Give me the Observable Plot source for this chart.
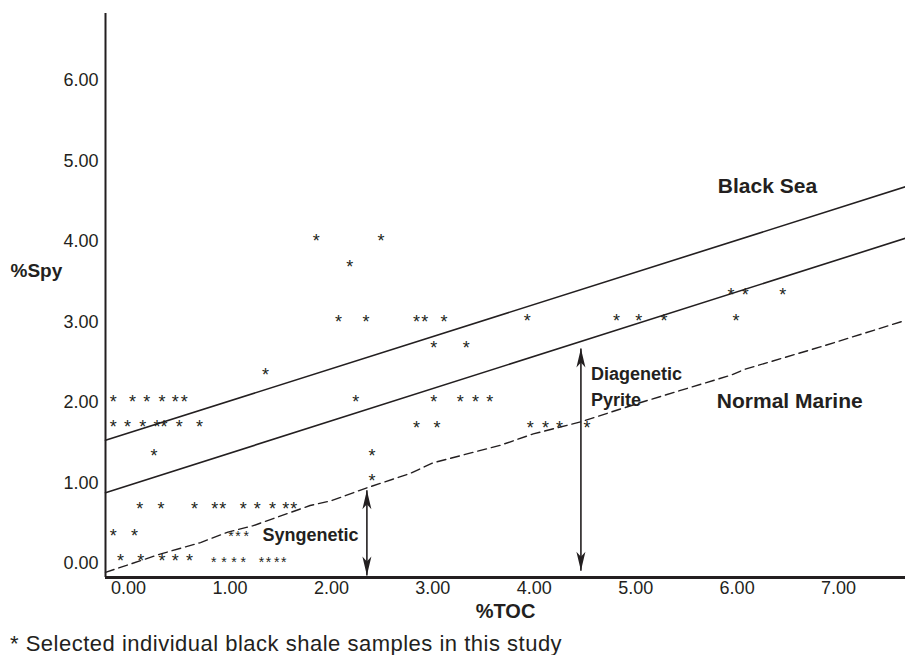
<!DOCTYPE html>
<html>
<head>
<meta charset="utf-8">
<script src="https://cdn.jsdelivr.net/npm/d3@7"></script>
<script src="https://cdn.jsdelivr.net/npm/@observablehq/plot@0.6"></script>
<style>
  html, body { margin: 0; padding: 0; background: #fff; }
  #caption { font-family: "Liberation Sans", Arial, sans-serif; font-size: 22px; letter-spacing: 0.5px; color: #231f20; padding: 5px 0 0 10px; line-height: 22px; white-space: nowrap; }
</style>
</head>
<body>
<div id="chart"></div>
<div id="caption">* Selected individual black shale samples in this study</div>
<script>
const tocTicks = [0, 1, 2, 3, 4, 5, 6, 7];
const spyTicks = [0, 1, 2, 3, 4, 5, 6];

// individual black shale samples [%TOC, %Spy]
const samples = [
  [-0.15, 2.06], [0.04, 2.06], [0.18, 2.06], [0.33, 2.06], [0.46, 2.06], [0.55, 2.06],
  [-0.15, 1.75], [-0.01, 1.75], [0.14, 1.75], [0.28, 1.75], [0.35, 1.75], [0.50, 1.75], [0.70, 1.75],
  [0.25, 1.40],
  [0.11, 0.73], [0.32, 0.73], [0.65, 0.73], [0.85, 0.73], [0.93, 0.73], [1.13, 0.73], [1.27, 0.73], [1.42, 0.73], [1.55, 0.73], [1.63, 0.73],
  [-0.15, 0.40], [0.06, 0.40],
  [-0.08, 0.09], [0.12, 0.09], [0.33, 0.09], [0.46, 0.09], [0.60, 0.09],
  [1.35, 2.40],
  [1.85, 4.06], [2.49, 4.06], [2.18, 3.74],
  [2.07, 3.06], [2.34, 3.06], [2.84, 3.06], [2.92, 3.06], [3.11, 3.06],
  [3.01, 2.73], [3.33, 2.73],
  [2.24, 2.06], [3.01, 2.06], [3.27, 2.06], [3.42, 2.06], [3.56, 2.06],
  [2.84, 1.74], [3.04, 1.74],
  [2.40, 1.39], [2.40, 1.08],
  [5.94, 3.40], [6.08, 3.40], [6.45, 3.40],
  [3.93, 3.07], [4.81, 3.07], [5.03, 3.07], [5.28, 3.07], [5.99, 3.07],
  [3.96, 1.74], [4.11, 1.74], [4.25, 1.74], [4.52, 1.74]
];
// tightly packed samples printed with a smaller glyph
const samplesSmall = [
  [1.01, 0.385], [1.08, 0.385], [1.16, 0.385],
  [0.84, 0.06], [0.94, 0.06], [1.04, 0.06], [1.13, 0.06], [1.31, 0.06], [1.38, 0.06], [1.46, 0.06], [1.53, 0.06]
];

const blackSeaLine = [[-0.227, 1.53], [7.66, 4.68]];
const upperMarineLine = [[-0.227, 0.88], [7.66, 4.04]];
const normalMarineLine = [
  [-0.227, -0.11], [0.32, 0.12], [0.71, 0.26], [0.98, 0.39], [1.23, 0.47], [1.79, 0.72],
  [2.0, 0.78], [2.35, 0.94], [2.78, 1.12], [3.0, 1.25], [3.67, 1.47], [3.99, 1.61],
  [4.46, 1.76], [5.05, 2.0], [5.94, 2.34], [6.07, 2.41], [6.82, 2.69], [7.66, 3.02]
];

// arrows: x, top tip, bottom tip
const arrows = [
  {x: 2.35, top: 0.91, bottom: -0.15},
  {x: 4.46, top: 2.67, bottom: -0.09}
];

const labels = [
  {text: "Black Sea", x: 5.81, y: 4.68, size: 21},
  {text: "Normal Marine", x: 5.80, y: 2.01, size: 21},
  {text: "Diagenetic", x: 4.56, y: 2.35, size: 18},
  {text: "Pyrite", x: 4.56, y: 2.03, size: 18},
  {text: "Syngenetic", x: 1.32, y: 0.345, size: 18}
];

const ink = "#231f20";
const headUp = {draw(ctx) { ctx.moveTo(0, 0); ctx.lineTo(4.5, 19); ctx.lineTo(0, 14); ctx.lineTo(-4.5, 19); ctx.closePath(); }};
const headDown = {draw(ctx) { ctx.moveTo(0, 0); ctx.lineTo(4.5, -19); ctx.lineTo(0, -14); ctx.lineTo(-4.5, -19); ctx.closePath(); }};

const xDom = [-0.227, 7.66];
const yDom = [-0.174, 6.832];

const chart = Plot.plot({
  width: 905,
  height: 628,
  marginLeft: 105,
  marginRight: 0,
  marginTop: 13,
  marginBottom: 51,
  style: {fontFamily: "Liberation Sans, Arial, sans-serif", fontSize: "18px", color: ink, background: "#fff"},
  x: {domain: xDom},
  y: {domain: yDom},
  marks: [
    Plot.axisX(tocTicks, {tickSize: 0, tickPadding: 4, tickFormat: d3.format(".2f"), fontSize: 18, label: null}),
    Plot.axisY(spyTicks, {tickSize: 0, tickPadding: 7, tickFormat: d3.format(".2f"), fontSize: 18, label: null}),
    Plot.line(blackSeaLine, {x: d => d[0], y: d => d[1], stroke: ink, strokeWidth: 1.6}),
    Plot.line(upperMarineLine, {x: d => d[0], y: d => d[1], stroke: ink, strokeWidth: 1.6}),
    Plot.line(normalMarineLine, {x: d => d[0], y: d => d[1], stroke: ink, strokeWidth: 1.4, strokeDasharray: "9,5"}),
    Plot.link(arrows, {x1: "x", x2: "x", y1: "top", y2: "bottom", stroke: ink, strokeWidth: 1.6}),
    Plot.dot(arrows, {x: "x", y: "top", symbol: headUp, fill: ink, stroke: null, r: 4}),
    Plot.dot(arrows, {x: "x", y: "bottom", symbol: headDown, fill: ink, stroke: null, r: 4}),
    Plot.text(samples, {x: d => d[0], y: d => d[1], text: () => "*", fontSize: 18, lineAnchor: "middle", dy: 5, fill: ink}),
    Plot.text(samplesSmall, {x: d => d[0], y: d => d[1], text: () => "*", fontSize: 14, lineAnchor: "middle", dy: 4, fill: ink}),
    Plot.text(labels, {x: "x", y: "y", text: "text", fontSize: "size", fontWeight: "bold", textAnchor: "start", lineAnchor: "middle", fill: ink}),
    Plot.text(["%Spy"], {frameAnchor: "left", y: [3.63], dx: -95, text: d => d, fontWeight: "bold", fontSize: 19, textAnchor: "start", fill: ink}),
    Plot.text(["%TOC"], {frameAnchor: "bottom", dy: 40, text: d => d, fontWeight: "bold", fontSize: 20, fill: ink}),
    Plot.ruleX([xDom[0]], {stroke: ink, strokeWidth: 2}),
    Plot.ruleY([yDom[0]], {stroke: ink, strokeWidth: 3})
  ]
});
document.getElementById("chart").appendChild(chart);
</script>
</body>
</html>
